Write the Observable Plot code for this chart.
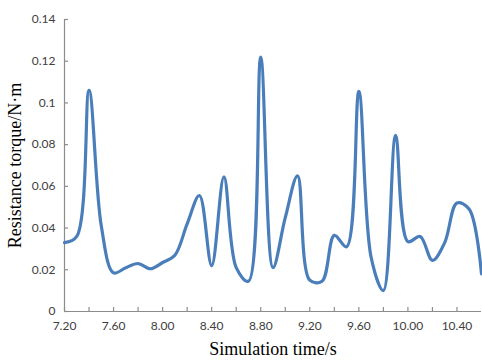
<!DOCTYPE html>
<html>
<head>
<meta charset="utf-8">
<script src="https://cdn.jsdelivr.net/npm/d3@7"></script>
<script src="https://cdn.jsdelivr.net/npm/@observablehq/plot@0.6"></script>
<style>
  html, body { margin: 0; padding: 0; background: #fff; }
  #chart { width: 482px; height: 360px; }
</style>
</head>
<body>
<div id="chart"></div>
<script>
// Simulation time (s)
const times = [7.2, 7.3, 7.4, 7.5, 7.6, 7.7, 7.8, 7.9, 8.0, 8.1, 8.2, 8.3, 8.4, 8.5, 8.6, 8.7, 8.8, 8.9,
  9.0, 9.1, 9.2, 9.3, 9.4, 9.5, 9.6, 9.7, 9.8, 9.9, 10.0, 10.1, 10.2, 10.3, 10.4, 10.5, 10.6];
// Resistance torque (N·m)
const torque = [0.033, 0.036, 0.106, 0.041, 0.0185, 0.021, 0.023, 0.0205, 0.0235, 0.027, 0.042, 0.0556,
  0.022, 0.0645, 0.021, 0.0145, 0.122, 0.021, 0.045, 0.065, 0.015, 0.0145, 0.0365, 0.031, 0.1055,
  0.026, 0.010, 0.0845, 0.0335, 0.036, 0.0245, 0.033, 0.052, 0.049, 0.018];

const xLabelTicks = [7.2, 7.6, 8.0, 8.4, 8.8, 9.2, 9.6, 10.0, 10.4];
const xMinorTicks = [7.2, 7.4, 7.6, 7.8, 8.0, 8.2, 8.4, 8.6, 8.8, 9.0, 9.2, 9.4, 9.6, 9.8, 10.0, 10.2, 10.4];
const yTicks = [0, 0.02, 0.04, 0.06, 0.08, 0.1, 0.12, 0.14];
const xDomain = [7.2, 10.6];
const yDomain = [0, 0.14];
const xTitle = "Simulation time/s";
const yTitle = "Resistance torque/N·m";

const data = times.map((t, i) => ({t, v: torque[i]}));
const axisColor = "#8c8c8c";
const labelColor = "#404040";
const sans = "Lato, 'Open Sans', sans-serif";
const serif = "'Liberation Serif', 'DejaVu Serif', serif";

const chart = Plot.plot({
  width: 482,
  height: 360,
  marginLeft: 64,
  marginRight: 1,
  marginTop: 19,
  marginBottom: 49,
  style: {background: "#fff", fontFamily: sans, fontSize: "12px", color: labelColor},
  x: {domain: xDomain},
  y: {domain: yDomain},
  marks: [
    // axis lines
    Plot.ruleX([xDomain[0]], {stroke: axisColor, strokeWidth: 1.2}),
    Plot.ruleY([yDomain[0]], {stroke: axisColor, strokeWidth: 1.2}),
    // inward ticks
    Plot.ruleX(xMinorTicks, {x: d => d, y1: yDomain[0], y2: yDomain[0], insetBottom: 4, stroke: axisColor, strokeWidth: 1.2}),
    Plot.ruleY(yTicks, {y: d => d, x1: xDomain[0], x2: xDomain[0], insetRight: -4, stroke: axisColor, strokeWidth: 1.2}),
    // tick labels
    Plot.axisX({ticks: xLabelTicks, tickFormat: d => d.toFixed(2), tickSize: 0, tickPadding: 10, label: null, fill: labelColor, fontSize: 12}),
    Plot.axisY({ticks: yTicks, tickFormat: d => String(+d.toFixed(2)), tickSize: 0, tickPadding: 9, label: null, fill: labelColor, fontSize: 12}),
    // data line
    Plot.line(data, {x: "t", y: "v", curve: "catmull-rom", stroke: "#4a7ebb", strokeWidth: 3.2}),
    // axis titles
    Plot.text([yTitle], {frameAnchor: "left", textAnchor: "middle", rotate: -90, dx: -49, fontFamily: serif, fontSize: 18, fill: "#000"}),
    Plot.text([xTitle], {frameAnchor: "bottom", dy: 43, fontFamily: serif, fontSize: 18, fill: "#000"})
  ]
});
document.getElementById("chart").appendChild(chart);
</script>
</body>
</html>
